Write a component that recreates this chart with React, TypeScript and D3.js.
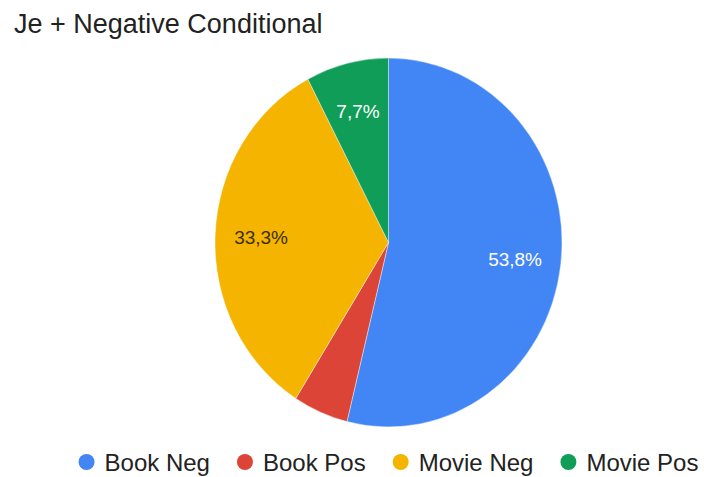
import { useEffect, useRef } from 'react';
import * as d3 from 'd3';

const categories = ['Book Neg', 'Book Pos', 'Movie Neg', 'Movie Pos'];
const counts = [21, 2, 13, 3];
const colors = ['#4285f4', '#db4437', '#f4b400', '#0f9d58'];
const labelColors = ['#ffffff', '#ffffff', '#3d2f00', '#ffffff'];
const title = 'Je + Negative Conditional';

const App = () => {
    const ref = useRef<SVGSVGElement>(null);

    useEffect(() => {
        document.body.style.margin = '0';
        const svg = d3.select(ref.current);
        svg.selectAll('*').remove();

        const width = 704;
        const height = 477;
        const font = '"Liberation Sans", Arial, sans-serif';

        // pie geometry (the picture is a touch taller than wide)
        const cx = 388.5;
        const cy = 242.5;
        const radius = 173.5;
        const stretchY = 1.063;

        svg.attr('width', width).attr('height', height).style('font-family', font);
        svg.append('rect').attr('width', width).attr('height', height).attr('fill', '#fff');

        svg.append('text')
            .attr('x', 14)
            .attr('y', 33)
            .attr('font-size', 27)
            .attr('fill', '#222')
            .text(title);

        const data = categories.map((c, i) => ({ name: c, value: counts[i], color: colors[i], label: labelColors[i] }));
        const total = d3.sum(counts);

        const pie = d3.pie<any>().sort(null).value(d => d.value);
        const arcs = pie(data);

        const arc = d3.arc<any>().innerRadius(0).outerRadius(radius);
        const labelArc = d3.arc<any>().innerRadius(radius * 0.735).outerRadius(radius * 0.735);

        const g = svg.append('g')
            .attr('transform', `translate(${cx},${cy}) scale(1,${stretchY})`);

        g.selectAll('path')
            .data(arcs)
            .join('path')
            .attr('d', arc)
            .attr('fill', d => d.data.color)
            .attr('stroke', '#fff')
            .attr('stroke-width', 0.4);

        // percent labels, comma decimal like the sheet locale
        const fmt = (v: number) => (v * 100).toFixed(1).replace('.', ',') + '%';
        svg.append('g')
            .selectAll('text')
            .data(arcs.filter(d => d.data.value / total > 0.06))
            .join('text')
            .attr('x', d => cx + labelArc.centroid(d)[0])
            .attr('y', d => cy + labelArc.centroid(d)[1] * stretchY)
            .attr('dy', '0.36em')
            .attr('text-anchor', 'middle')
            .attr('font-size', 19)
            .attr('fill', d => d.data.label)
            .text(d => fmt(d.data.value / total));

        // legend, centred under the pie
        const dotR = 8;
        const textGap = 18;
        const itemGap = 27;
        const legendY = 462;
        const legend = svg.append('g');
        const items = legend.selectAll('g')
            .data(data)
            .join('g');
        items.append('circle')
            .attr('r', dotR)
            .attr('cy', legendY)
            .attr('fill', d => d.color);
        items.append('text')
            .attr('x', textGap)
            .attr('y', legendY)
            .attr('dy', '0.36em')
            .attr('font-size', 24)
            .attr('fill', '#222')
            .text(d => d.name);

        const widths: number[] = [];
        items.select('text').each(function () {
            widths.push((this as SVGTextElement).getComputedTextLength());
        });
        // advance from one dot centre to the next
        const advance = widths.map(w => textGap + w + itemGap + dotR);
        const totalW = dotR + d3.sum(widths, w => textGap + w) + (widths.length - 1) * (itemGap + dotR);
        let x = cx - totalW / 2 + dotR;
        items.attr('transform', (d, i) => {
            const t = `translate(${x},0)`;
            x += advance[i];
            return t;
        });
    }, []);

    return <svg ref={ref} />;
};

export default App;
